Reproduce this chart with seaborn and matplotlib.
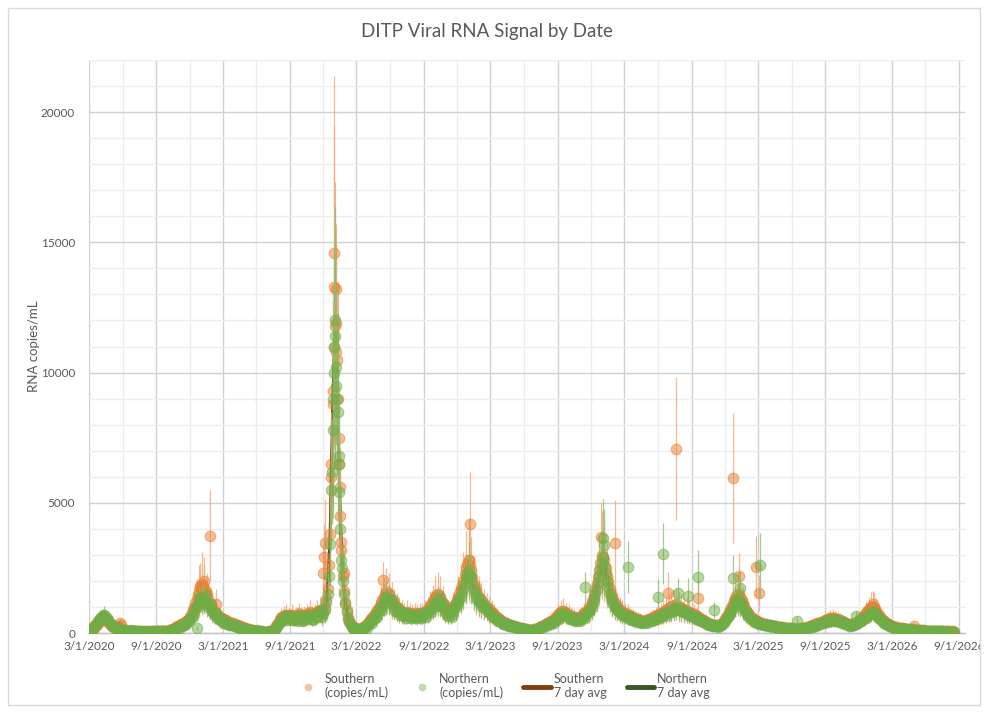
import numpy as np
import pandas as pd
import matplotlib
matplotlib.use("Agg")
import matplotlib.pyplot as plt
import matplotlib.dates as mdates
from matplotlib.ticker import MultipleLocator, FuncFormatter
from matplotlib.lines import Line2D
from matplotlib.patches import Rectangle
from matplotlib.transforms import Bbox, TransformedBbox
import seaborn as sns

# ---------------- data (weekly samples from 2020-03-01, rows of 13 weeks) ----------------
start_date = "2020-03-01"

south_vals = [
    30, 100, 200, 320, 420, 520, 580, 480, 350, 260, 200, 160, 380,
    150, 110, 80, 90, 60, 70, 60, 50, 60, 50, 60, 50, 60,
    70, 60, 80, 70, 90, 100, 130, 160, 220, 280, 330, 380, 450,
    550, 750, 1000, 1300, 1600, 1900, 1700, 1500, 1100, 900, 800, 700, 600,
    550, 500, 450, 400, 380, 330, 300, 260, 220, 180, 150, 120, 100,
    90, 70, 60, 50, 40, 60, 70, 120, 250, 420, 600, 650, 700,
    650, 700, 600, 650, 750, 600, 650, 700, 800, 650, 700, 800, 900,
    700, 1000, 1700, 3800, 8800, 11800, 9000, 4500, 2200, 1200, 600, 330, 200,
    180, 150, 160, 220, 300, 420, 550, 650, 800, 950, 1150, 1400, 1600,
    1500, 1250, 1100, 1000, 900, 800, 750, 800, 750, 700, 750, 700, 750,
    750, 800, 900, 1050, 1200, 1400, 1500, 1400, 1150, 900, 750, 800, 1000,
    1150, 1400, 1700, 2000, 2500, 2800, 2400, 1900, 1600, 1400, 1250, 1100, 1000,
    900, 800, 700, 600, 520, 450, 400, 350, 320, 280, 250, 220, 200,
    180, 150, 130, 110, 120, 150, 180, 220, 280, 340, 400, 450, 480,
    600, 700, 800, 850, 750, 700, 650, 600, 550, 600, 650, 750, 850,
    950, 1150, 1500, 1900, 2400, 3000, 2800, 2200, 1700, 1400, 1150, 1000, 900,
    800, 750, 700, 650, 600, 550, 520, 480, 450, 480, 500, 550, 600,
    650, 700, 750, 800, 900, 950, 1000, 1050, 1100, 1000, 950, 900, 850,
    800, 750, 700, 650, 580, 520, 450, 400, 350, 320, 300, 280, 320,
    400, 520, 700, 900, 1100, 1350, 1500, 1400, 1150, 900, 750, 620, 550,
    480, 430, 400, 360, 340, 310, 290, 270, 250, 240, 220, 210, 200,
    190, 180, 170, 160, 170, 180, 200, 230, 260, 290, 330, 370, 400,
    430, 480, 520, 560, 580, 550, 520, 480, 430, 380, 340, 320, 350,
    400, 470, 550, 650, 780, 900, 1000, 1000, 850, 700, 560, 460, 380,
    320, 280, 240, 220, 200, 180, 170, 160, 150, 140, 130, 120, 110,
    100, 95, 90, 85, 80, 75, 70, 65, 65, 60, 60, 55, 60,
]

south_err = [
    20, 60, 110, 150, 200, 260, 300, 250, 180, 130, 100, 80, 200,
    70, 50, 40, 50, 30, 40, 30, 30, 40, 30, 30, 30, 40,
    40, 30, 40, 40, 50, 60, 70, 90, 120, 150, 200, 220, 260,
    300, 400, 600, 800, 1000, 1200, 900, 800, 600, 500, 450, 400, 350,
    300, 280, 250, 220, 200, 180, 160, 140, 120, 100, 80, 70, 60,
    50, 40, 30, 30, 25, 30, 40, 70, 140, 250, 350, 380, 400,
    350, 400, 330, 360, 420, 330, 380, 400, 450, 380, 400, 450, 500,
    450, 600, 1000, 2000, 4000, 5500, 4500, 2500, 1200, 700, 350, 200, 120,
    100, 80, 90, 120, 170, 230, 300, 360, 450, 520, 650, 750, 900,
    800, 700, 600, 550, 500, 450, 420, 450, 420, 380, 420, 400, 420,
    420, 450, 500, 580, 650, 780, 850, 800, 650, 500, 420, 450, 550,
    650, 800, 950, 1100, 1400, 1600, 1300, 1050, 900, 800, 700, 600, 550,
    500, 450, 400, 330, 290, 250, 220, 200, 180, 160, 140, 120, 110,
    100, 80, 70, 60, 70, 80, 100, 120, 160, 190, 220, 250, 270,
    330, 400, 450, 480, 420, 400, 360, 330, 300, 330, 360, 420, 480,
    550, 650, 850, 1100, 1350, 1700, 1600, 1250, 950, 800, 650, 550, 500,
    450, 420, 400, 360, 330, 300, 290, 270, 250, 270, 280, 300, 330,
    360, 400, 420, 450, 500, 530, 560, 600, 620, 560, 530, 500, 480,
    450, 420, 400, 360, 320, 290, 250, 220, 200, 180, 170, 160, 180,
    220, 290, 400, 500, 620, 750, 850, 800, 650, 500, 420, 350, 300,
    270, 240, 220, 200, 190, 170, 160, 150, 140, 130, 120, 120, 110,
    110, 100, 95, 90, 95, 100, 110, 130, 150, 160, 190, 210, 220,
    240, 270, 290, 310, 330, 310, 290, 270, 240, 210, 190, 180, 200,
    220, 260, 310, 370, 440, 500, 560, 560, 480, 400, 310, 260, 210,
    180, 160, 130, 120, 110, 100, 95, 90, 85, 80, 70, 65, 60,
    55, 50, 50, 45, 45, 40, 40, 35, 35, 35, 35, 30, 35,
]

north_vals = [
    40, 120, 250, 380, 500, 620, 700, 560, 400, 300, 220, 170, 140,
    120, 100, 90, 80, 70, 60, 70, 60, 50, 60, 50, 60, 50,
    60, 70, 60, 80, 70, 90, 110, 140, 180, 230, 280, 320, 380,
    480, 650, 850, 1050, 1250, 1350, 1300, 1150, 1000, 850, 700, 600, 520,
    450, 400, 350, 320, 300, 260, 240, 200, 170, 150, 120, 100, 90,
    80, 60, 50, 40, 40, 50, 60, 100, 200, 350, 500, 550, 600,
    550, 600, 500, 550, 600, 500, 550, 600, 650, 550, 600, 700, 800,
    600, 900, 1500, 3400, 7800, 11400, 8500, 4000, 2000, 1100, 550, 300, 180,
    150, 120, 130, 180, 250, 350, 450, 550, 700, 850, 1000, 1200, 1400,
    1300, 1100, 950, 850, 800, 700, 650, 700, 650, 600, 650, 600, 650,
    650, 700, 800, 900, 1000, 1150, 1250, 1200, 1000, 800, 650, 700, 850,
    1000, 1200, 1400, 1700, 2100, 2400, 2100, 1700, 1400, 1200, 1100, 1000, 900,
    800, 700, 600, 500, 450, 400, 350, 300, 280, 250, 220, 200, 180,
    160, 140, 120, 100, 110, 130, 160, 200, 250, 300, 350, 400, 420,
    500, 600, 700, 700, 650, 600, 550, 500, 480, 500, 550, 650, 750,
    850, 1000, 1300, 1700, 2200, 2700, 2600, 2000, 1500, 1200, 1000, 900, 800,
    700, 650, 600, 550, 500, 480, 450, 420, 400, 420, 450, 480, 500,
    550, 600, 650, 700, 750, 800, 850, 900, 950, 900, 850, 800, 750,
    700, 650, 600, 550, 500, 450, 400, 350, 300, 280, 260, 250, 280,
    350, 450, 600, 750, 950, 1150, 1300, 1200, 1000, 800, 650, 550, 480,
    420, 380, 350, 320, 300, 280, 260, 250, 230, 220, 200, 190, 180,
    170, 160, 150, 140, 150, 160, 180, 200, 220, 250, 280, 320, 350,
    380, 420, 450, 480, 500, 480, 450, 420, 380, 340, 300, 280, 300,
    350, 400, 450, 520, 600, 700, 780, 800, 700, 580, 480, 400, 330,
    280, 240, 210, 190, 170, 160, 150, 140, 130, 120, 110, 100, 100,
    90, 85, 80, 75, 70, 70, 65, 60, 60, 55, 55, 50, 50,
]

north_err = [
    20, 50, 110, 170, 230, 280, 320, 250, 180, 140, 100, 80, 60,
    50, 45, 40, 35, 30, 30, 30, 25, 25, 30, 25, 25, 25,
    25, 30, 25, 35, 30, 40, 50, 60, 80, 100, 120, 140, 170,
    210, 290, 380, 470, 560, 600, 580, 520, 450, 380, 310, 270, 230,
    200, 180, 160, 140, 130, 120, 110, 90, 80, 70, 55, 45, 40,
    35, 30, 25, 20, 20, 25, 30, 45, 90, 160, 220, 250, 270,
    250, 270, 230, 250, 270, 230, 250, 270, 290, 250, 270, 320, 360,
    270, 400, 680, 1600, 3400, 5000, 3800, 1800, 900, 500, 250, 150, 90,
    70, 55, 60, 80, 110, 160, 200, 250, 320, 380, 450, 540, 630,
    580, 500, 430, 380, 360, 320, 290, 320, 290, 270, 290, 270, 290,
    290, 320, 360, 400, 450, 520, 560, 540, 450, 360, 290, 320, 380,
    450, 540, 630, 770, 950, 1100, 950, 770, 630, 540, 500, 450, 400,
    360, 320, 270, 230, 200, 180, 160, 140, 130, 110, 100, 90, 80,
    70, 65, 55, 45, 50, 60, 70, 90, 110, 140, 160, 180, 190,
    230, 270, 320, 320, 290, 270, 250, 230, 220, 230, 250, 290, 340,
    380, 450, 590, 770, 990, 1200, 1170, 900, 680, 540, 450, 400, 360,
    320, 290, 270, 250, 230, 220, 200, 190, 180, 190, 200, 220, 230,
    250, 270, 290, 320, 340, 360, 380, 400, 430, 400, 380, 360, 340,
    320, 290, 270, 250, 230, 200, 180, 160, 140, 130, 120, 110, 130,
    160, 200, 270, 340, 430, 520, 590, 540, 450, 360, 290, 250, 220,
    190, 170, 160, 140, 140, 130, 120, 110, 100, 100, 90, 90, 80,
    80, 70, 70, 65, 70, 70, 80, 90, 100, 110, 130, 140, 160,
    170, 190, 200, 220, 230, 220, 200, 190, 170, 150, 140, 130, 140,
    160, 180, 200, 230, 270, 320, 350, 360, 320, 260, 220, 180, 150,
    130, 110, 95, 85, 80, 70, 70, 65, 60, 55, 50, 45, 45,
    40, 40, 35, 35, 30, 30, 30, 25, 25, 25, 25, 25, 25,
]

# mid-week readings (3 days after each weekly sample)
south_mid = [
    60, 160, 260, 380, 480, 560, 520, 420, 310, 230, 180, 250, 300,
    130, 95, 85, 75, 70, 65, 55, 55, 55, 55, 55, 55, 65,
    65, 70, 75, 80, 95, 115, 145, 190, 250, 300, 360, 420, 500,
    650, 880, 1150, 1450, 1750, 1800, 1600, 1300, 1000, 850, 750, 650, 580,
    520, 480, 420, 390, 350, 320, 280, 240, 200, 160, 140, 110, 95,
    80, 65, 55, 45, 50, 65, 90, 180, 330, 520, 620, 680, 680,
    680, 650, 620, 700, 680, 620, 680, 750, 720, 680, 750, 850, 800,
    850, 1300, 2600, 6500, 11000, 10800, 6500, 3200, 1600, 900, 450, 260, 190,
    160, 155, 190, 260, 360, 480, 600, 720, 880, 1050, 1280, 1500, 1550,
    1380, 1180, 1050, 950, 850, 780, 780, 780, 720, 720, 720, 720, 750,
    780, 850, 980, 1120, 1300, 1450, 1450, 1280, 1020, 820, 780, 900, 1080,
    1280, 1550, 1850, 2250, 2650, 2600, 2150, 1750, 1500, 1320, 1180, 1050, 950,
    850, 750, 650, 560, 480, 420, 380, 330, 300, 260, 230, 210, 190,
    165, 140, 120, 115, 135, 165, 200, 250, 310, 370, 420, 470, 540,
    650, 750, 830, 800, 720, 680, 620, 580, 570, 620, 700, 800, 900,
    1050, 1300, 1700, 2150, 2700, 2900, 2500, 1950, 1550, 1280, 1080, 950, 850,
    780, 720, 680, 620, 580, 540, 500, 460, 460, 490, 520, 580, 620,
    680, 720, 780, 850, 920, 980, 1020, 1080, 1050, 980, 920, 880, 820,
    780, 720, 680, 620, 550, 480, 420, 380, 330, 310, 290, 300, 360,
    460, 610, 800, 1000, 1220, 1420, 1450, 1280, 1020, 820, 680, 580, 510,
    460, 420, 380, 350, 320, 300, 280, 260, 245, 230, 215, 205, 195,
    185, 175, 165, 165, 175, 190, 215, 245, 275, 310, 350, 385, 415,
    455, 500, 540, 570, 565, 535, 500, 455, 405, 360, 330, 335, 375,
    435, 510, 600, 710, 840, 950, 1000, 920, 780, 630, 510, 420, 350,
    300, 260, 230, 210, 190, 175, 165, 155, 145, 135, 125, 115, 105,
    98, 92, 88, 82, 78, 72, 68, 65, 62, 60, 58, 58, 55,
]

north_mid = [
    70, 180, 300, 450, 560, 680, 640, 480, 350, 260, 190, 160, 120,
    110, 130, 70, 100, 60, 80, 50, 70, 40, 70, 40, 70, 40,
    80, 50, 80, 60, 90, 70, 130, 120, 210, 200, 320, 300, 430,
    560, 600, 950, 1000, 1400, 1150, 1450, 1000, 1100, 750, 750, 520, 560,
    380, 430, 300, 360, 250, 300, 200, 230, 140, 170, 100, 120, 70,
    100, 45, 60, 30, 55, 40, 80, 140, 270, 450, 450, 650, 500,
    650, 480, 620, 450, 680, 460, 640, 520, 700, 480, 720, 620, 900,
    750, 1200, 2200, 5500, 10000, 9500, 6500, 2800, 1500, 800, 420, 230, 160,
    130, 160, 100, 220, 200, 420, 380, 650, 600, 950, 900, 1350, 1250,
    1150, 1250, 850, 950, 700, 800, 580, 780, 560, 700, 560, 720, 560,
    760, 620, 900, 820, 1100, 1050, 1350, 1050, 1100, 700, 750, 620, 950,
    1100, 1300, 1550, 1900, 2250, 2200, 1900, 1550, 1250, 1300, 1000, 1050, 820,
    750, 620, 560, 450, 480, 350, 380, 270, 300, 220, 240, 180, 190,
    140, 160, 100, 120, 90, 150, 180, 230, 220, 340, 320, 440, 380,
    560, 540, 760, 640, 700, 550, 600, 460, 520, 460, 620, 580, 820,
    900, 1150, 1500, 1950, 2450, 2900, 2300, 1750, 1350, 1100, 950, 850, 720,
    680, 600, 640, 500, 530, 440, 480, 390, 430, 390, 480, 450, 540,
    520, 650, 600, 760, 700, 860, 800, 960, 880, 950, 800, 850, 700,
    740, 600, 640, 500, 540, 420, 430, 320, 330, 250, 290, 230, 310,
    400, 520, 680, 850, 1050, 1250, 1200, 1100, 900, 720, 600, 520, 440,
    400, 360, 330, 340, 280, 300, 240, 270, 210, 240, 180, 210, 160,
    180, 140, 160, 130, 160, 150, 200, 190, 240, 230, 300, 300, 370,
    400, 450, 430, 510, 470, 510, 420, 450, 350, 360, 280, 300, 320,
    380, 430, 490, 560, 650, 740, 820, 750, 640, 530, 440, 360, 300,
    260, 220, 200, 180, 160, 150, 140, 130, 120, 110, 105, 95, 90,
    88, 80, 78, 72, 68, 66, 62, 58, 56, 52, 52, 48, 46,
]

# individual readings that stand apart from the band
south_extra_dates = ["2020-12-28", "2021-01-08", "2021-01-25", "2021-02-10", "2021-11-30",
                     "2021-12-02", "2021-12-04", "2021-12-22", "2021-12-27", "2021-12-29",
                     "2021-12-31", "2022-01-03", "2022-01-05", "2022-01-08", "2022-01-12",
                     "2022-01-14", "2022-01-18", "2022-01-25", "2022-05-13", "2023-01-02",
                     "2023-01-05", "2023-12-29", "2024-02-06", "2024-06-27", "2024-07-19",
                     "2024-09-17", "2024-12-24", "2025-01-07", "2025-02-24", "2025-03-04",
                     "2026-01-10", "2026-04-30"]
south_extra_vals = [1800, 2000, 3730, 1100, 2300, 2900, 3460, 6000, 9300, 13300,
                    14600, 13200, 11900, 10500, 7500, 5600, 3500, 2300, 2040, 2800,
                    4200, 3700, 3460, 1530, 7080, 1350, 5960, 2170, 2540, 1530,
                    1100, 280]
south_extra_err = [900, 900, 1750, 600, 1000, 1300, 1650, 2500, 4000, 6200,
                   6800, 2500, 3000, 2500, 2000, 1500, 1200, 900, 700, 1000,
                   2000, 1300, 1650, 800, 2750, 700, 2500, 900, 1200, 700,
                   500, 100]

north_extra_dates = ["2020-12-20", "2021-12-24", "2021-12-28", "2021-12-30", "2022-01-01",
                     "2022-01-04", "2022-01-07", "2022-01-11", "2022-01-13", "2022-01-20",
                     "2023-11-15", "2024-01-02", "2024-01-05", "2024-03-10", "2024-05-31",
                     "2024-06-16", "2024-07-27", "2024-08-23", "2024-09-17", "2024-11-02",
                     "2024-12-24", "2025-01-12", "2025-03-07", "2025-06-15", "2025-11-24"]
north_extra_vals = [180, 6200, 9000, 11000, 12000, 10200, 9000, 6800, 5400, 2500,
                    1750, 3650, 3380, 2540, 1380, 3040, 1530, 1420, 2150, 890,
                    2100, 1740, 2600, 470, 650]
north_extra_err = [80, 2000, 3000, 3500, 3500, 3000, 2500, 2000, 1500, 800,
                   600, 1500, 1400, 1000, 700, 1170, 600, 700, 1050, 300,
                   900, 600, 1250, 150, 200]

# ---------------- frames ----------------
n = min(len(south_vals), len(north_vals), len(south_err), len(north_err))
weekly_dates = pd.date_range(start_date, periods=n, freq="7D")
m = min(len(south_mid), len(north_mid), n)
mid_dates = weekly_dates[:m] + pd.Timedelta(days=3)

south_err_df = pd.concat([
    pd.DataFrame({"date": weekly_dates, "value": south_vals[:n], "err": south_err[:n]}),
    pd.DataFrame({"date": pd.to_datetime(south_extra_dates), "value": south_extra_vals,
                  "err": south_extra_err}),
])
north_err_df = pd.concat([
    pd.DataFrame({"date": weekly_dates, "value": north_vals[:n], "err": north_err[:n]}),
    pd.DataFrame({"date": pd.to_datetime(north_extra_dates), "value": north_extra_vals,
                  "err": north_extra_err}),
])
south_df = pd.concat([
    south_err_df[["date", "value"]],
    pd.DataFrame({"date": mid_dates, "value": south_mid[:m]}),
]).sort_values("date")
north_df = pd.concat([
    north_err_df[["date", "value"]],
    pd.DataFrame({"date": mid_dates, "value": north_mid[:m]}),
]).sort_values("date")
south_avg = pd.DataFrame({"date": weekly_dates, "value": south_vals[:n]})
north_avg = pd.DataFrame({"date": weekly_dates, "value": north_vals[:n]})

# ---------------- style ----------------
sns.set_theme(style="white")
plt.rcParams["font.family"] = ["Lato", "DejaVu Sans"]
TXT = "#595959"
S_RGBA = (0.929, 0.490, 0.192, 0.5)
S_EDGE = (0.929, 0.490, 0.192, 0.55)
N_RGBA = (0.439, 0.678, 0.278, 0.5)
N_EDGE = (0.439, 0.678, 0.278, 0.55)
S_AVG = "#843C0C"
N_AVG = "#385723"

W, H = 987, 713
fig = plt.figure(figsize=(W / 100, H / 100), dpi=100)
ax = fig.add_axes([89 / W, 1 - 633 / H, (965 - 89) / W, (633 - 60) / H])

# 7 day average lines (beneath markers)
sns.lineplot(data=south_avg, x="date", y="value", ax=ax, color=S_AVG, lw=2.0, zorder=2)
sns.lineplot(data=north_avg, x="date", y="value", ax=ax, color=N_AVG, lw=2.0, zorder=2.1)

# error bars + markers
ax.errorbar(south_err_df["date"].dt.to_pydatetime(), south_err_df["value"],
            yerr=south_err_df["err"], fmt="none", ecolor="#F0A877", elinewidth=0.9,
            alpha=0.8, zorder=3)
sns.scatterplot(data=south_df, x="date", y="value", ax=ax, s=58, color=S_RGBA,
                edgecolor=S_EDGE, linewidth=0.8, zorder=4)
ax.errorbar(north_err_df["date"].dt.to_pydatetime(), north_err_df["value"],
            yerr=north_err_df["err"], fmt="none", ecolor="#8DBE6C", elinewidth=0.9,
            alpha=0.8, zorder=5)
sns.scatterplot(data=north_df, x="date", y="value", ax=ax, s=58, color=N_RGBA,
                edgecolor=N_EDGE, linewidth=0.8, zorder=6)

# ---------------- axes ----------------
ax.set_xlim(pd.Timestamp("2020-03-01"), pd.Timestamp("2026-09-17"))
ax.set_ylim(0, 22000)
ax.xaxis.set_major_locator(mdates.MonthLocator(bymonth=(3, 9), bymonthday=1))
ax.xaxis.set_minor_locator(mdates.MonthLocator(bymonth=(6, 12), bymonthday=1))
ax.xaxis.set_major_formatter(FuncFormatter(
    lambda v, p: (lambda d: f"{d.month}/{d.day}/{d.year}")(mdates.num2date(v))))
ax.yaxis.set_major_locator(MultipleLocator(5000))
ax.yaxis.set_minor_locator(MultipleLocator(1000))

ax.grid(which="major", color="#D0D0D0", lw=1.0, zorder=0)
ax.grid(which="minor", color="#EDEDED", lw=1.0, zorder=0)
ax.set_axisbelow(True)
for side in ["top", "right", "left"]:
    ax.spines[side].set_visible(False)
ax.spines["bottom"].set_color("#BFBFBF")
ax.spines["bottom"].set_linewidth(1.0)
ax.tick_params(axis="both", which="both", length=0, colors=TXT, labelsize=8.5)
ax.tick_params(axis="x", pad=6)
ax.tick_params(axis="y", pad=10)
ax.set_xlabel("")
ax.set_ylabel("RNA copies/mL", color=TXT, fontsize=9.5)
ax.yaxis.set_label_coords(-(89 - 40) / (965 - 89), 0.5)

clipbox = TransformedBbox(Bbox([[0, 0], [980 / W, 1]]), fig.transFigure)
for t in ax.xaxis.get_major_ticks():
    t.label1.set_clip_box(clipbox)
    t.label1.set_clip_on(True)

# title
fig.text(487 / W, 1 - 32 / H, "DITP Viral RNA Signal by Date", ha="center", va="center",
         color=TXT, fontsize=13.5)

# legend
handles = [
    Line2D([], [], ls="none", marker="o", ms=5.5, mfc=(0.929, 0.490, 0.192, 0.45),
           mec="none"),
    Line2D([], [], ls="none", marker="o", ms=5.5, mfc=(0.439, 0.678, 0.278, 0.45),
           mec="none"),
    Line2D([], [], color=S_AVG, lw=3.5),
    Line2D([], [], color=N_AVG, lw=3.5),
]
labels = ["Southern\n(copies/mL)", "Northern\n(copies/mL)", "Southern\n7 day avg",
          "Northern\n7 day avg"]
fig.legend(handles, labels, loc="center", bbox_to_anchor=(502 / W, 1 - 686 / H),
           ncol=4, frameon=False, fontsize=9, handlelength=2.2, handletextpad=0.25,
           columnspacing=1.6, labelcolor=TXT)

# chart border
fig.add_artist(Rectangle((8 / W, 8 / H), (980 - 8) / W, (705 - 8) / H,
                         transform=fig.transFigure, fill=False, edgecolor="#D9D9D9", lw=1.0))

fig.savefig("out.png", dpi=100)
